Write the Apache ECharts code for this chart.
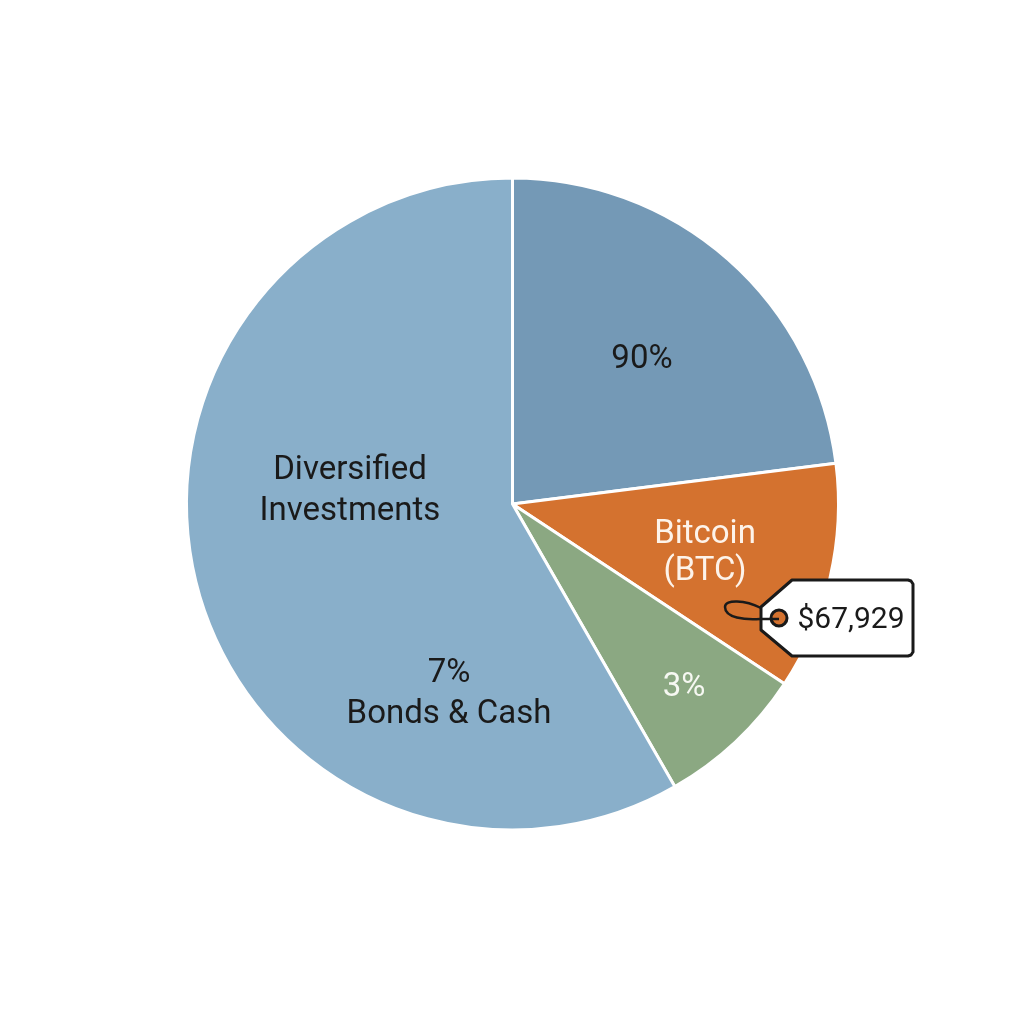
<!DOCTYPE html>
<html>
<head>
<meta charset="utf-8">
<style>
  html, body { margin: 0; padding: 0; background: #fff; }
  #allocation { width: 1024px; height: 1024px; }
</style>
</head>
<body>
<div id="allocation"></div>
<script src="https://cdn.jsdelivr.net/npm/echarts@6/dist/echarts.min.js"></script>
<script>
// slice sizes (angle share), the printed labels don't match them
var sliceNames = ['Stocks', 'Bitcoin', 'Other', 'Diversified'];
var sliceValues = [23.0, 11.3, 7.4, 58.3];
var sliceLabels = ['90%', 'Bitcoin\n(BTC)', '3%', 'Diversified\nInvestments'];
var extraLabel = '7%\nBonds & Cash';
var priceTag = '$67,929';

var sliceColors = ['#7499b6', '#d4722f', '#8ba882', '#89afca'];
var labelColors = ['#1a1a1a', '#fdf3ea', '#f6f8f2', '#1a1a1a'];
var labelLines = [41, 37, 41, 41];
var labelSpots = [[642, 360], [705, 553], [684, 688], [350, 491]];

var allocation = echarts.init(document.getElementById('allocation'));

var pieData = sliceNames.map(function (name, i) {
  return {
    name: name,
    value: sliceValues[i],
    itemStyle: { color: sliceColors[i] },
    label: { formatter: sliceLabels[i], color: labelColors[i], lineHeight: labelLines[i] }
  };
});

var inkStyle = { fill: 'none', stroke: '#1a1a1a', lineWidth: 2.5 };

var allocationOptions = {
  backgroundColor: '#ffffff',
  animation: false,
  textStyle: { fontFamily: 'Roboto' },
  series: [
    {
      name: 'Allocation',
      type: 'pie',
      center: [512.5, 504],
      radius: [0, 326],
      startAngle: 90,
      clockwise: true,
      data: pieData,
      itemStyle: { borderColor: '#ffffff', borderWidth: 3 },
      label: { position: 'inside', fontSize: 33, fontFamily: 'Roboto', align: 'center' },
      labelLine: { show: false },
      labelLayout: function (params) {
        return { x: labelSpots[params.dataIndex][0], y: labelSpots[params.dataIndex][1], align: 'center', verticalAlign: 'middle' };
      },
      emphasis: { disabled: true }
    }
  ],
  graphic: [
    {
      type: 'text',
      x: 449, y: 694, z: 10,
      style: { text: extraLabel, fill: '#1a1a1a', font: '33px Roboto', lineHeight: 41, align: 'center', verticalAlign: 'middle' }
    },
    // price tag
    {
      type: 'polygon',
      z: 10,
      shape: { points: [[792, 580], [908, 580], [911, 581], [913, 584], [913, 652], [911, 655], [908, 656], [792, 656], [761, 630], [761, 607]] },
      style: { fill: '#ffffff', stroke: '#1a1a1a', lineWidth: 3, lineJoin: 'round' }
    },
    {
      type: 'circle',
      z: 11,
      shape: { cx: 779, cy: 618, r: 8 },
      style: { fill: '#d4722f', stroke: '#1a1a1a', lineWidth: 3 }
    },
    { type: 'line', z: 12, shape: { x1: 779, y1: 619, x2: 760, y2: 619 }, style: inkStyle },
    { type: 'bezierCurve', z: 12, shape: { x1: 760, y1: 619, cpx1: 745, cpy1: 620, cpx2: 725, cpy2: 618, x2: 725, y2: 607 }, style: inkStyle },
    { type: 'bezierCurve', z: 12, shape: { x1: 725, y1: 607, cpx1: 725, cpy1: 599, cpx2: 745, cpy2: 600, x2: 761, y2: 608 }, style: inkStyle },
    {
      type: 'text',
      x: 851, y: 620, z: 12,
      style: { text: priceTag, fill: '#1a1a1a', font: '30px Roboto', align: 'center', verticalAlign: 'middle' }
    }
  ]
};

allocation.setOption(allocationOptions);
</script>
</body>
</html>
